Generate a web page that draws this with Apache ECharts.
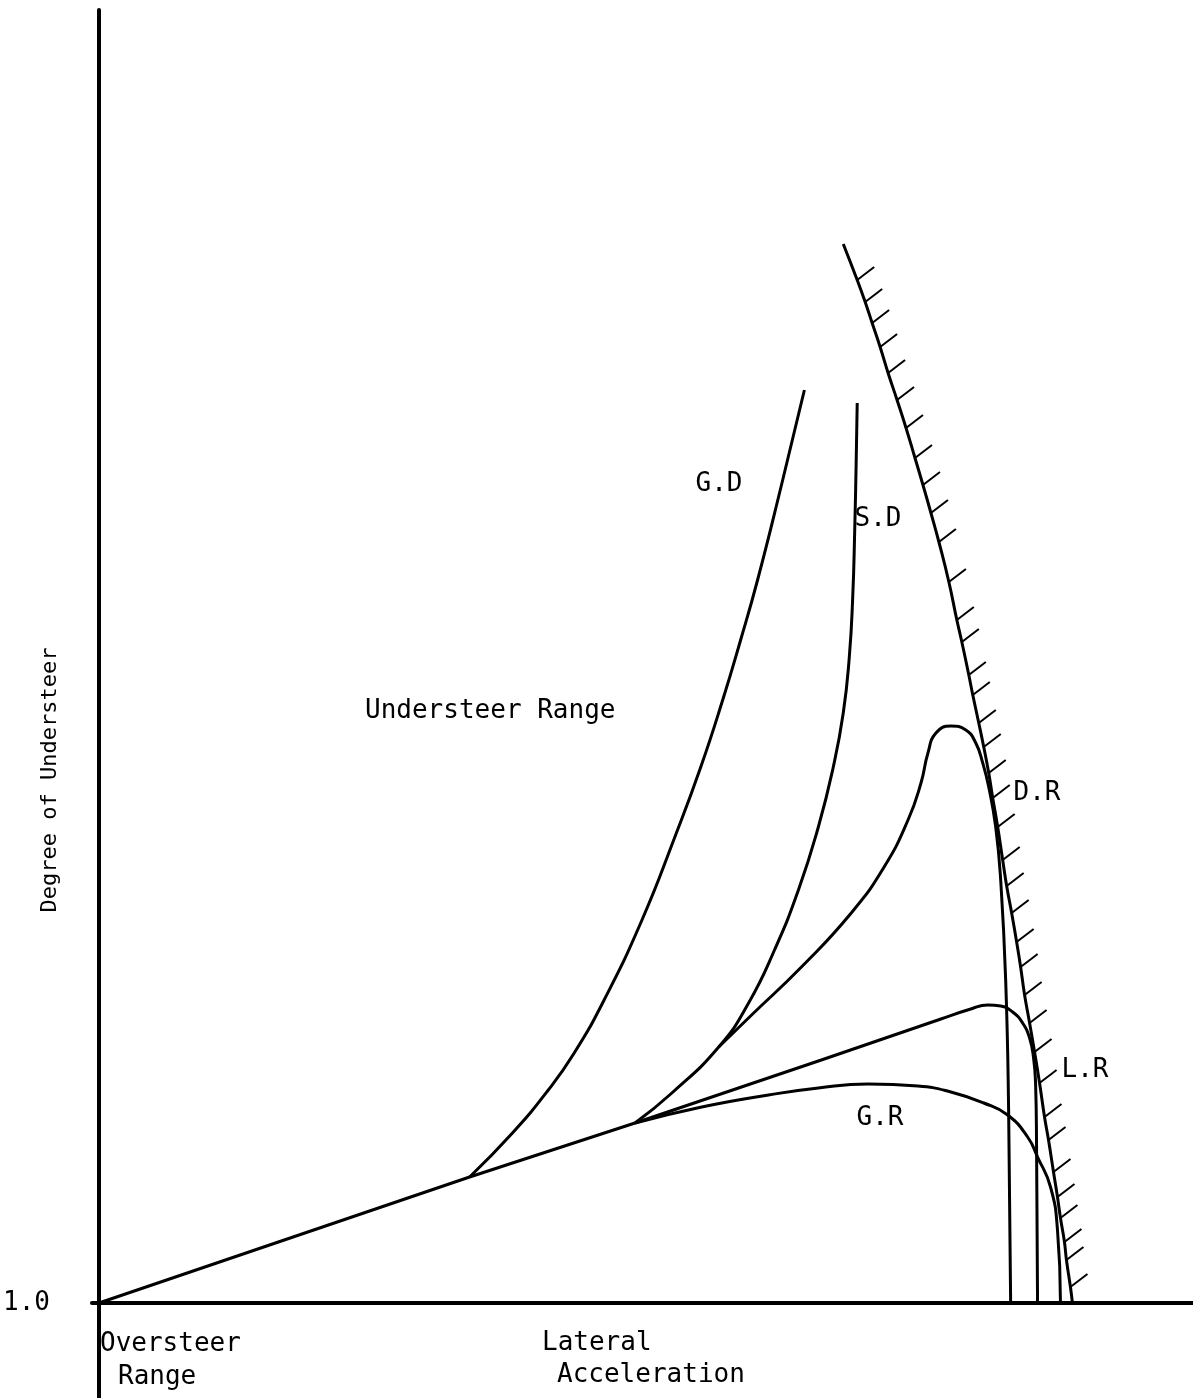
<!DOCTYPE html>
<html>
<head>
<meta charset="utf-8">
<title>Degree of Understeer vs Lateral Acceleration</title>
<script src="https://cdn.jsdelivr.net/npm/echarts@6/dist/echarts.min.js"></script>
<style>
  html, body { margin: 0; padding: 0; background: #fff; }
  #chart { width: 1193px; height: 1398px; }
</style>
</head>
<body>
<div id="chart"></div>
<script>
// x = lateral acceleration (arbitrary units), y = understeer above 1.0
var baseLine = [[0, 0], [3.72, 1.26], [5.38, 1.80]];

var gdCurve = [
  [3.72, 1.26], [4.15, 1.70], [4.51, 2.13], [4.77, 2.50], [5.07, 3.03],
  [5.45, 3.83], [5.78, 4.66], [6.04, 5.36], [6.26, 6.03], [6.44, 6.63],
  [6.61, 7.23], [6.85, 8.18], [7.08, 9.13]
];

var sdCurve = [
  [5.38, 1.80], [5.75, 2.10], [6.22, 2.56], [6.52, 3.00], [6.78, 3.53],
  [7.02, 4.13], [7.22, 4.76], [7.37, 5.36], [7.47, 5.90], [7.53, 6.45],
  [7.565, 7.06], [7.585, 7.73], [7.60, 8.43], [7.61, 9.00]
];

var drCurve = [
  [6.22, 2.56], [6.55, 2.88], [7.05, 3.36], [7.55, 3.90], [7.88, 4.36],
  [8.12, 4.83], [8.25, 5.20], [8.32, 5.50], [8.40, 5.70], [8.55, 5.77],
  [8.70, 5.73], [8.80, 5.60], [8.87, 5.40], [8.93, 5.16], [9.00, 4.76],
  [9.05, 4.23], [9.10, 3.23], [9.13, 1.90], [9.15, 0]
];

var lrCurve = [
  [5.38, 1.80], [7.25, 2.43], [8.45, 2.84], [8.75, 2.94], [8.92, 2.98],
  [9.05, 2.97], [9.17, 2.91], [9.27, 2.80], [9.34, 2.65], [9.38, 2.45],
  [9.40, 2.20], [9.41, 1.56], [9.42, 0]
];

var grCurve = [
  [5.38, 1.80], [6.05, 1.96], [6.72, 2.08], [7.22, 2.15], [7.72, 2.19],
  [8.22, 2.17], [8.55, 2.11], [8.88, 2.00], [9.12, 1.88], [9.32, 1.66],
  [9.42, 1.46], [9.55, 1.16], [9.62, 0.73], [9.65, 0]
];

// limit boundary, one point per hatch mark (ends have none)
var limitCurve = [
  [7.47, 10.59], [7.61, 10.23], [7.69, 10.01], [7.76, 9.80], [7.84, 9.56],
  [7.92, 9.30], [8.01, 9.03], [8.10, 8.75], [8.19, 8.45], [8.27, 8.18],
  [8.35, 7.90], [8.43, 7.61], [8.53, 7.21], [8.61, 6.83], [8.66, 6.61],
  [8.73, 6.28], [8.77, 6.08], [8.83, 5.80], [8.88, 5.56], [8.93, 5.30],
  [8.97, 5.05], [9.02, 4.76], [9.07, 4.43], [9.11, 4.17], [9.16, 3.90],
  [9.21, 3.61], [9.25, 3.36], [9.29, 3.08], [9.34, 2.80], [9.39, 2.51],
  [9.44, 2.20], [9.49, 1.86], [9.53, 1.63], [9.58, 1.31], [9.62, 1.06],
  [9.65, 0.85], [9.69, 0.61], [9.71, 0.43], [9.75, 0.16], [9.77, 0]
];

var FONT = "'DejaVu Sans Mono', 'Liberation Mono', monospace";
var chart = echarts.init(document.getElementById('chart'));

function curve(name, data, smooth) {
  return {
    name: name,
    type: 'line',
    data: data,
    smooth: smooth,
    showSymbol: false,
    silent: true,
    lineStyle: { color: '#000', width: 3 },
    z: 3
  };
}

function note(text, x, y, opts) {
  var o = opts || {};
  return {
    type: 'text',
    x: x,
    y: y,
    rotation: o.rotation || 0,
    style: {
      text: text,
      font: (o.size || 26) + 'px ' + FONT,
      fill: '#000',
      textAlign: o.align || 'center',
      textVerticalAlign: 'middle'
    }
  };
}

chart.setOption({
  animation: false,
  backgroundColor: '#fff',
  grid: { left: 88, right: 0, top: 10, bottom: 0 },
  xAxis: {
    type: 'value',
    min: -0.07,
    max: 10.98,
    axisLine: { onZero: true, lineStyle: { color: '#000', width: 4 } },
    axisTick: { show: false },
    axisLabel: { show: false },
    splitLine: { show: false }
  },
  yAxis: {
    type: 'value',
    min: -0.95,
    max: 12.93,
    axisLine: { show: true, onZero: true, lineStyle: { color: '#000', width: 4 } },
    axisTick: { show: false },
    splitLine: { show: false },
    axisLabel: {
      showMinLabel: false,
      showMaxLabel: false,
      margin: 42,
      fontFamily: FONT,
      fontSize: 26,
      color: '#000',
      formatter: function (v) { return v === 0 ? '1.0' : ''; }
    }
  },
  series: [
    curve('base', baseLine, false),
    curve('G.D', gdCurve, 0.5),
    curve('S.D', sdCurve, 0.5),
    curve('D.R', drCurve, 0.5),
    curve('L.R', lrCurve, 0.5),
    curve('G.R', grCurve, 0.5),
    curve('limit', limitCurve, 0.5),
    {
      // hatch marks on the outside of the limit line
      name: 'hatch',
      type: 'custom',
      silent: true,
      data: limitCurve.slice(1, -1),
      renderItem: function (params, api) {
        var p = api.coord([api.value(0), api.value(1)]);
        return {
          type: 'line',
          shape: { x1: p[0], y1: p[1], x2: p[0] + 17, y2: p[1] - 13 },
          style: { stroke: '#000', lineWidth: 2 }
        };
      },
      z: 2
    }
  ],
  graphic: [
    note('G.D', 719, 484),
    note('S.D', 878, 519),
    note('D.R', 1037, 793),
    note('L.R', 1085, 1070),
    note('G.R', 880, 1118),
    note('Understeer Range', 365, 711, { align: 'left' }),
    note('Oversteer', 100, 1344, { align: 'left' }),
    note('Range', 118, 1377, { align: 'left' }),
    note('Lateral', 542, 1343, { align: 'left' }),
    note('Acceleration', 557, 1375, { align: 'left' }),
    note('Degree of Understeer', 50, 780, { rotation: Math.PI / 2, size: 22 })
  ]
});
</script>
</body>
</html>
